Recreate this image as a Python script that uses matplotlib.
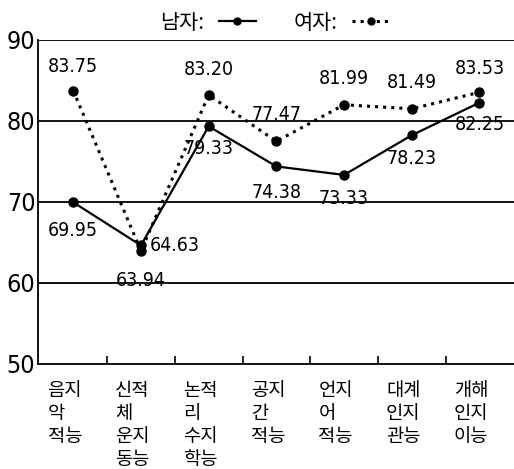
import matplotlib
matplotlib.use('Agg')
import matplotlib.pyplot as plt
from matplotlib.lines import Line2D
from matplotlib import font_manager
import matplotlib.transforms as mtransforms

# look for a narrow latin face for the numbers
num_family = 'Liberation Sans'
num_stretch = 'normal'
for f in font_manager.fontManager.ttflist:
    if 'Narrow' in f.name or 'Condensed' in f.name:
        num_family = f.name
        break
    if f.stretch in ('condensed', 'semi-condensed', 575, 600, 700) and 'Mono' not in f.name:
        num_family = f.name
        num_stretch = f.stretch
        break

plt.rcParams['font.family'] = [num_family, 'Noto Sans CJK KR', 'DejaVu Sans']
plt.rcParams['font.stretch'] = num_stretch
kr = ['Noto Sans CJK KR', 'DejaVu Sans']

categories = ['음지\n악\n적능', '신적\n체\n운지\n동능', '논적\n리\n수지\n학능', '공지\n간\n적능',
              '언지\n어\n적능', '대계\n인지\n관능', '개해\n인지\n이능']
male = [69.95, 64.63, 79.33, 74.38, 73.33, 78.23, 82.25]
female = [83.75, 63.94, 83.20, 77.47, 81.99, 81.49, 83.53]
yticks = [50, 60, 70, 80, 90]

# label offsets in points (dx, dy)
male_offsets = [(0, -20), (24, 0), (0, -16), (0, -19), (0, -17), (0, -17), (0, -16)]
female_offsets = [(0, 17), (0, -21), (0, 18), (0, 19), (0, 19), (0, 19), (0, 17)]

fig = plt.figure(figsize=(5.14, 4.69), dpi=100)
ax = fig.add_axes([0.074, 0.224, 0.926, 0.691])

x = list(range(len(categories)))
ax.plot(x, male, '-', color='black', lw=1.6, marker='o', ms=6.5)
ax.plot(x, female, ':', color='black', lw=2.2, marker='o', ms=6.5)

for i, v in enumerate(male):
    ax.annotate(f'{v:.2f}', (i, v), xytext=male_offsets[i], textcoords='offset points',
                ha='center', va='center', fontsize=14)
for i, v in enumerate(female):
    ax.annotate(f'{v:.2f}', (i, v), xytext=female_offsets[i], textcoords='offset points',
                ha='center', va='center', fontsize=14)

for y in yticks[1:]:
    ax.axhline(y, color='black', lw=1.3)

ax.set_xlim(-0.52, 6.51)
ax.set_ylim(50, 90)
ax.set_yticks(yticks)
ax.tick_params(axis='y', length=0, pad=2, labelsize=18)
ax.set_xticks([i + 0.5 for i in range(len(categories) - 1)])
ax.set_xticklabels([])
ax.tick_params(axis='x', direction='in', length=6, width=1.2)
for s in ['top', 'right']:
    ax.spines[s].set_visible(False)
ax.spines['left'].set_linewidth(1.3)
ax.spines['bottom'].set_linewidth(1.3)

trans = mtransforms.blended_transform_factory(ax.transData, ax.transAxes)
for i, lab in enumerate(categories):
    ax.text(i - 0.38, -0.05, lab, transform=trans, ha='left', va='top', fontsize=13.5,
            family=kr, linespacing=1.12)

handles = [Line2D([], [], color='black', lw=1.6, marker='o', ms=5),
           Line2D([], [], color='black', lw=2.2, ls=':', marker='o', ms=5)]
fig.legend(handles, ['남자:', '여자:'], loc='upper center', bbox_to_anchor=(0.535, 1.015), ncol=2,
           frameon=False, markerfirst=False, handlelength=1.8, columnspacing=1.8, handletextpad=0.7,
           prop={'family': kr, 'size': 15})

fig.savefig('out.png', dpi=100)
